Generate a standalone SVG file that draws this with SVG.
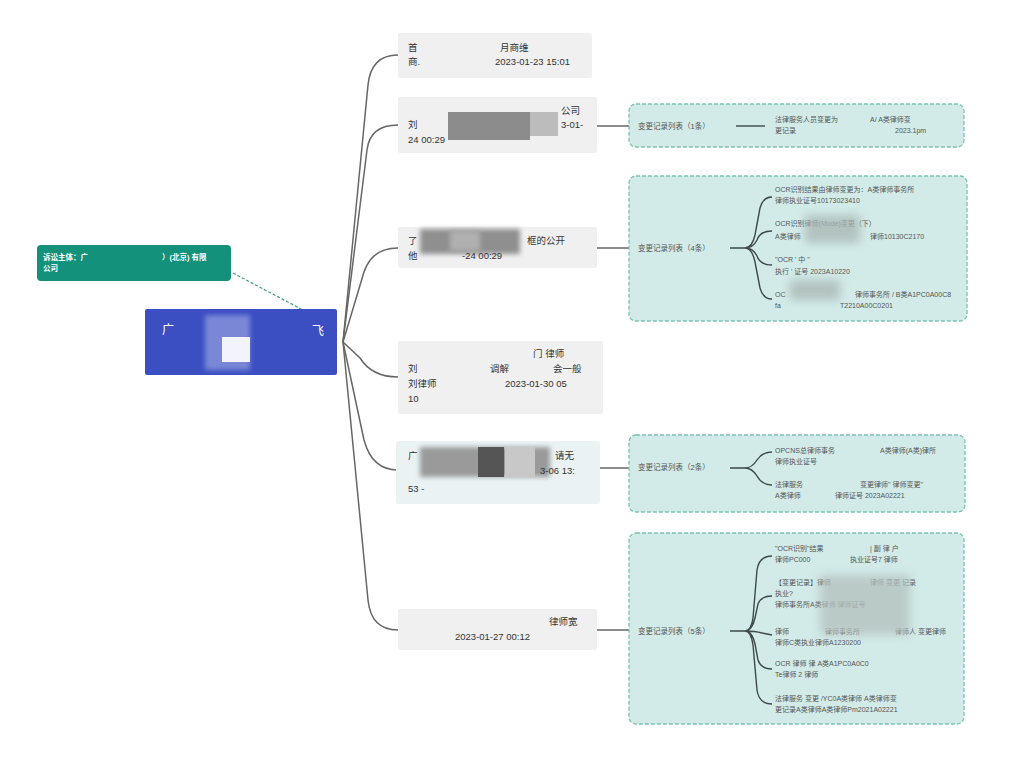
<svg xmlns="http://www.w3.org/2000/svg" width="1024" height="763" viewBox="0 0 1024 763">
<defs>
<style>
text{font-family:"Liberation Sans","Noto Sans CJK SC",sans-serif}
.bg{fill:#ffffff}
.gray{fill:#f0f0f0}
.gray2{fill:#eaf2f4}
.nt{font-size:9.5px;fill:#333}
.teal{fill:#d2ebe8;stroke:#7cc2b3;stroke-width:1.3;stroke-dasharray:4 2}
.lbl{font-size:7.5px;fill:#555}
.leaf{font-size:7px;fill:#555}
.conn{fill:none;stroke:#666;stroke-width:1.5}
.brace{fill:none;stroke:#3d4a48;stroke-width:1.4}
.wt{fill:#fff;font-size:7.5px;font-weight:bold}
</style>
<filter id="blur" x="-20%" y="-40%" width="140%" height="180%"><feGaussianBlur stdDeviation="2.5"/></filter>
<filter id="blur2" x="-20%" y="-40%" width="140%" height="180%"><feGaussianBlur stdDeviation="5"/></filter>
</defs>
<rect class="bg" width="1024" height="763"/>

<g id="connectors">
<path class="conn" d="M343,342 L368,85 Q371,55 398,55"/>
<path class="conn" d="M343,342 L367,150 Q370,125 398,125"/>
<path class="conn" d="M343,342 L364,272 Q372,248 398,248"/>
<path class="conn" d="M343,342 L360,358 Q372,377 398,377"/>
<path class="conn" d="M343,342 L364,440 Q372,470 398,470"/>
<path class="conn" d="M343,342 L368,600 Q371,630 398,630"/>
<path d="M233,273 L303,310" fill="none" stroke="#3a9a88" stroke-width="1.2" stroke-dasharray="3 2"/>
<path class="conn" d="M597,126 L629,126"/>
<path class="conn" d="M597,248 L629,248"/>
<path class="conn" d="M600,468 L629,468"/>
<path class="conn" d="M597,630 L629,630"/>
</g>

<g id="subject">
<rect x="37" y="245" width="194" height="36" rx="4" fill="#13917a"/>
<text class="wt" x="43" y="260">诉讼主体：广</text>
<text class="wt" x="162" y="260">）(北京) 有限</text>
<text class="wt" x="43" y="271">公司</text>
</g>

<g id="root">
<rect x="145" y="309" width="192" height="66" rx="2" fill="#3b4ec2"/>
<rect x="205" y="315" width="45" height="55" fill="#8a96dd" filter="url(#blur)" opacity="0.8"/>
<rect x="222" y="337" width="28" height="25" fill="#f2f3fb"/>
<text x="162" y="334" font-size="12" fill="#fff">广</text>
<text x="312" y="335" font-size="12" fill="#fff">飞</text>
</g>

<g id="n1">
<rect class="gray" x="398" y="33" width="194" height="45" rx="2"/>
<text class="nt" x="408" y="51">首</text>
<text class="nt" x="500" y="51">月商维</text>
<text class="nt" x="408" y="65">商.</text>
<text class="nt" x="495" y="65">2023-01-23 15:01</text>
</g>

<g id="n2">
<rect class="gray" x="398" y="97" width="199" height="56" rx="2"/>
<rect x="448" y="112" width="82" height="28" fill="#8c8c8c"/>
<rect x="530" y="112" width="28" height="24" fill="#bcbcbc"/>
<text class="nt" x="561" y="114">公司</text>
<text class="nt" x="408" y="128">刘</text>
<text class="nt" x="561" y="128">3-01-</text>
<text class="nt" x="408" y="143">24 00:29</text>
</g>

<g id="n3">
<rect class="gray" x="398" y="227" width="199" height="41" rx="2"/>
<rect x="420" y="229" width="100" height="25" fill="#8f8f8f" filter="url(#blur)"/>
<rect x="450" y="231" width="30" height="20" fill="#b0b0b0" filter="url(#blur)"/>
<text class="nt" x="408" y="244">了</text>
<text class="nt" x="527" y="244">框的公开</text>
<text class="nt" x="408" y="259">他</text>
<text class="nt" x="462" y="259">-24 00:29</text>
</g>

<g id="n4">
<rect class="gray" x="398" y="341" width="205" height="73" rx="2"/>
<text class="nt" x="533" y="357">门 律师</text>
<text class="nt" x="408" y="372">刘</text>
<text class="nt" x="490" y="372">调解</text>
<text class="nt" x="553" y="372">会一般</text>
<text class="nt" x="408" y="387">刘律师</text>
<text class="nt" x="505" y="387">2023-01-30 05</text>
<text class="nt" x="408" y="402">10</text>
</g>

<g id="n5">
<rect class="gray2" x="396" y="441" width="204" height="63" rx="2"/>
<rect x="420" y="447" width="130" height="30" fill="#9a9a9a" filter="url(#blur)"/>
<rect x="478" y="447" width="26" height="30" fill="#555"/>
<rect x="505" y="447" width="30" height="30" fill="#c8c8c8"/>
<text class="nt" x="408" y="459">广</text>
<text class="nt" x="555" y="459">请无</text>
<text class="nt" x="540" y="474">3-06 13:</text>
<text class="nt" x="408" y="492">53 -</text>
</g>

<g id="n6">
<rect class="gray" x="398" y="609" width="199" height="41" rx="2"/>
<text class="nt" x="549" y="625">律师宽</text>
<text class="nt" x="455" y="640">2023-01-27 00:12</text>
</g>

<g id="gA">
<rect class="teal" x="629" y="104" width="335" height="43" rx="7"/>
<text class="lbl" x="638" y="129">变更记录列表（1条）</text>
<path class="brace" d="M736,126 L765,126"/>
<text class="leaf" x="775" y="122">法律服务人员变更为</text>
<text class="leaf" x="870" y="122">A/  A类律师变</text>
<text class="leaf" x="775" y="133">更记录</text>
<text class="leaf" x="895" y="133">2023.1pm</text>
</g>

<g id="gB">
<rect class="teal" x="629" y="176" width="338" height="145" rx="7"/>
<text class="lbl" x="638" y="251">变更记录列表（4条）</text>
<path class="brace" d="M730,248 L745,248 M745,248 Q752,248 755,235 L760,208 Q763,197 772,197 M745,248 Q753,248 757,240 Q760,231 772,231 M745,248 Q753,248 757,256 Q760,265 772,265 M745,248 Q752,248 755,262 L760,288 Q763,299 772,299"/>
<text class="leaf" x="775" y="192">OCR识别结果由律师变更为：A类律师事务所</text>
<text class="leaf" x="775" y="203">律师执业证号10173023410</text>
<text class="leaf" x="775" y="226">OCR识别律师(Mode)变更（下）</text>
<text class="leaf" x="775" y="239">A类律师</text>
<text class="leaf" x="870" y="239">律师10130C2170</text>
<text class="leaf" x="775" y="262">"OCR   '    中        "</text>
<text class="leaf" x="775" y="274">执行   '    证号    2023A10220</text>
<text class="leaf" x="775" y="297">OC</text>
<text class="leaf" x="855" y="297">律师事务所 / B类A1PC0A00C8</text>
<text class="leaf" x="775" y="308">fa</text>
<text class="leaf" x="840" y="308">T2210A00C0201</text>
<rect x="805" y="215" width="55" height="28" fill="#aab8b6" filter="url(#blur2)" opacity="0.8"/>
<rect x="790" y="280" width="50" height="20" fill="#aab8b6" filter="url(#blur2)" opacity="0.8"/>
</g>

<g id="gC">
<rect class="teal" x="629" y="435" width="336" height="77" rx="7"/>
<text class="lbl" x="638" y="470">变更记录列表（2条）</text>
<path class="brace" d="M730,468 L745,468 M745,468 Q752,468 757,460 Q762,452 772,452 M745,468 Q752,468 757,476 Q762,485 772,485"/>
<text class="leaf" x="775" y="453">OPCNS总律师事务</text>
<text class="leaf" x="880" y="453">A类律师(A类)律所</text>
<text class="leaf" x="775" y="464">律师执业证号</text>
<text class="leaf" x="775" y="487">法律服务</text>
<text class="leaf" x="860" y="487">变更律师"  律师变更"</text>
<text class="leaf" x="775" y="498">A类律师</text>
<text class="leaf" x="835" y="498">律师证号 2023A02221</text>
</g>

<g id="gD">
<rect class="teal" x="629" y="533" width="335" height="191" rx="7"/>
<text class="lbl" x="638" y="634">变更记录列表（5条）</text>
<path class="brace" d="M730,631 L745,631 M745,631 Q751,631 753,618 L757,570 Q759,556 772,556 M745,631 Q752,631 755,618 L758,604 Q761,596 772,596 M745,631 Q755,631 762,633 L772,635 M745,631 Q752,631 755,644 L758,660 Q761,669 772,669 M745,631 Q751,631 753,645 L757,690 Q759,704 772,704"/>
<text class="leaf" x="775" y="551">"OCR识别"结果</text>
<text class="leaf" x="870" y="551">| 副 律 户</text>
<text class="leaf" x="775" y="562">律师PC000</text>
<text class="leaf" x="850" y="562">执业证号7   律师</text>
<text class="leaf" x="775" y="585">【变更记录】律师</text>
<text class="leaf" x="870" y="585">律师 变更    记录</text>
<text class="leaf" x="775" y="596">执业?</text>
<text class="leaf" x="775" y="607">律师事务所A类律师   律师证号</text>
<text class="leaf" x="775" y="634">律师</text>
<text class="leaf" x="825" y="634">律师事务所</text>
<text class="leaf" x="895" y="634">律师人 变更律师</text>
<text class="leaf" x="775" y="645">律师C类执业律师A1230200</text>
<text class="leaf" x="775" y="666">OCR    律师   律 A类A1PC0A0C0</text>
<text class="leaf" x="775" y="677">Te律师   2   律师</text>
<text class="leaf" x="775" y="701">法律服务     变更 /YC0A类律师 A类律师变</text>
<text class="leaf" x="775" y="712">更记录A类律师A类律师Pm2021A02221</text>
<rect x="820" y="575" width="90" height="60" fill="#b5c2c0" filter="url(#blur2)" opacity="0.8"/>
</g>
</svg>
